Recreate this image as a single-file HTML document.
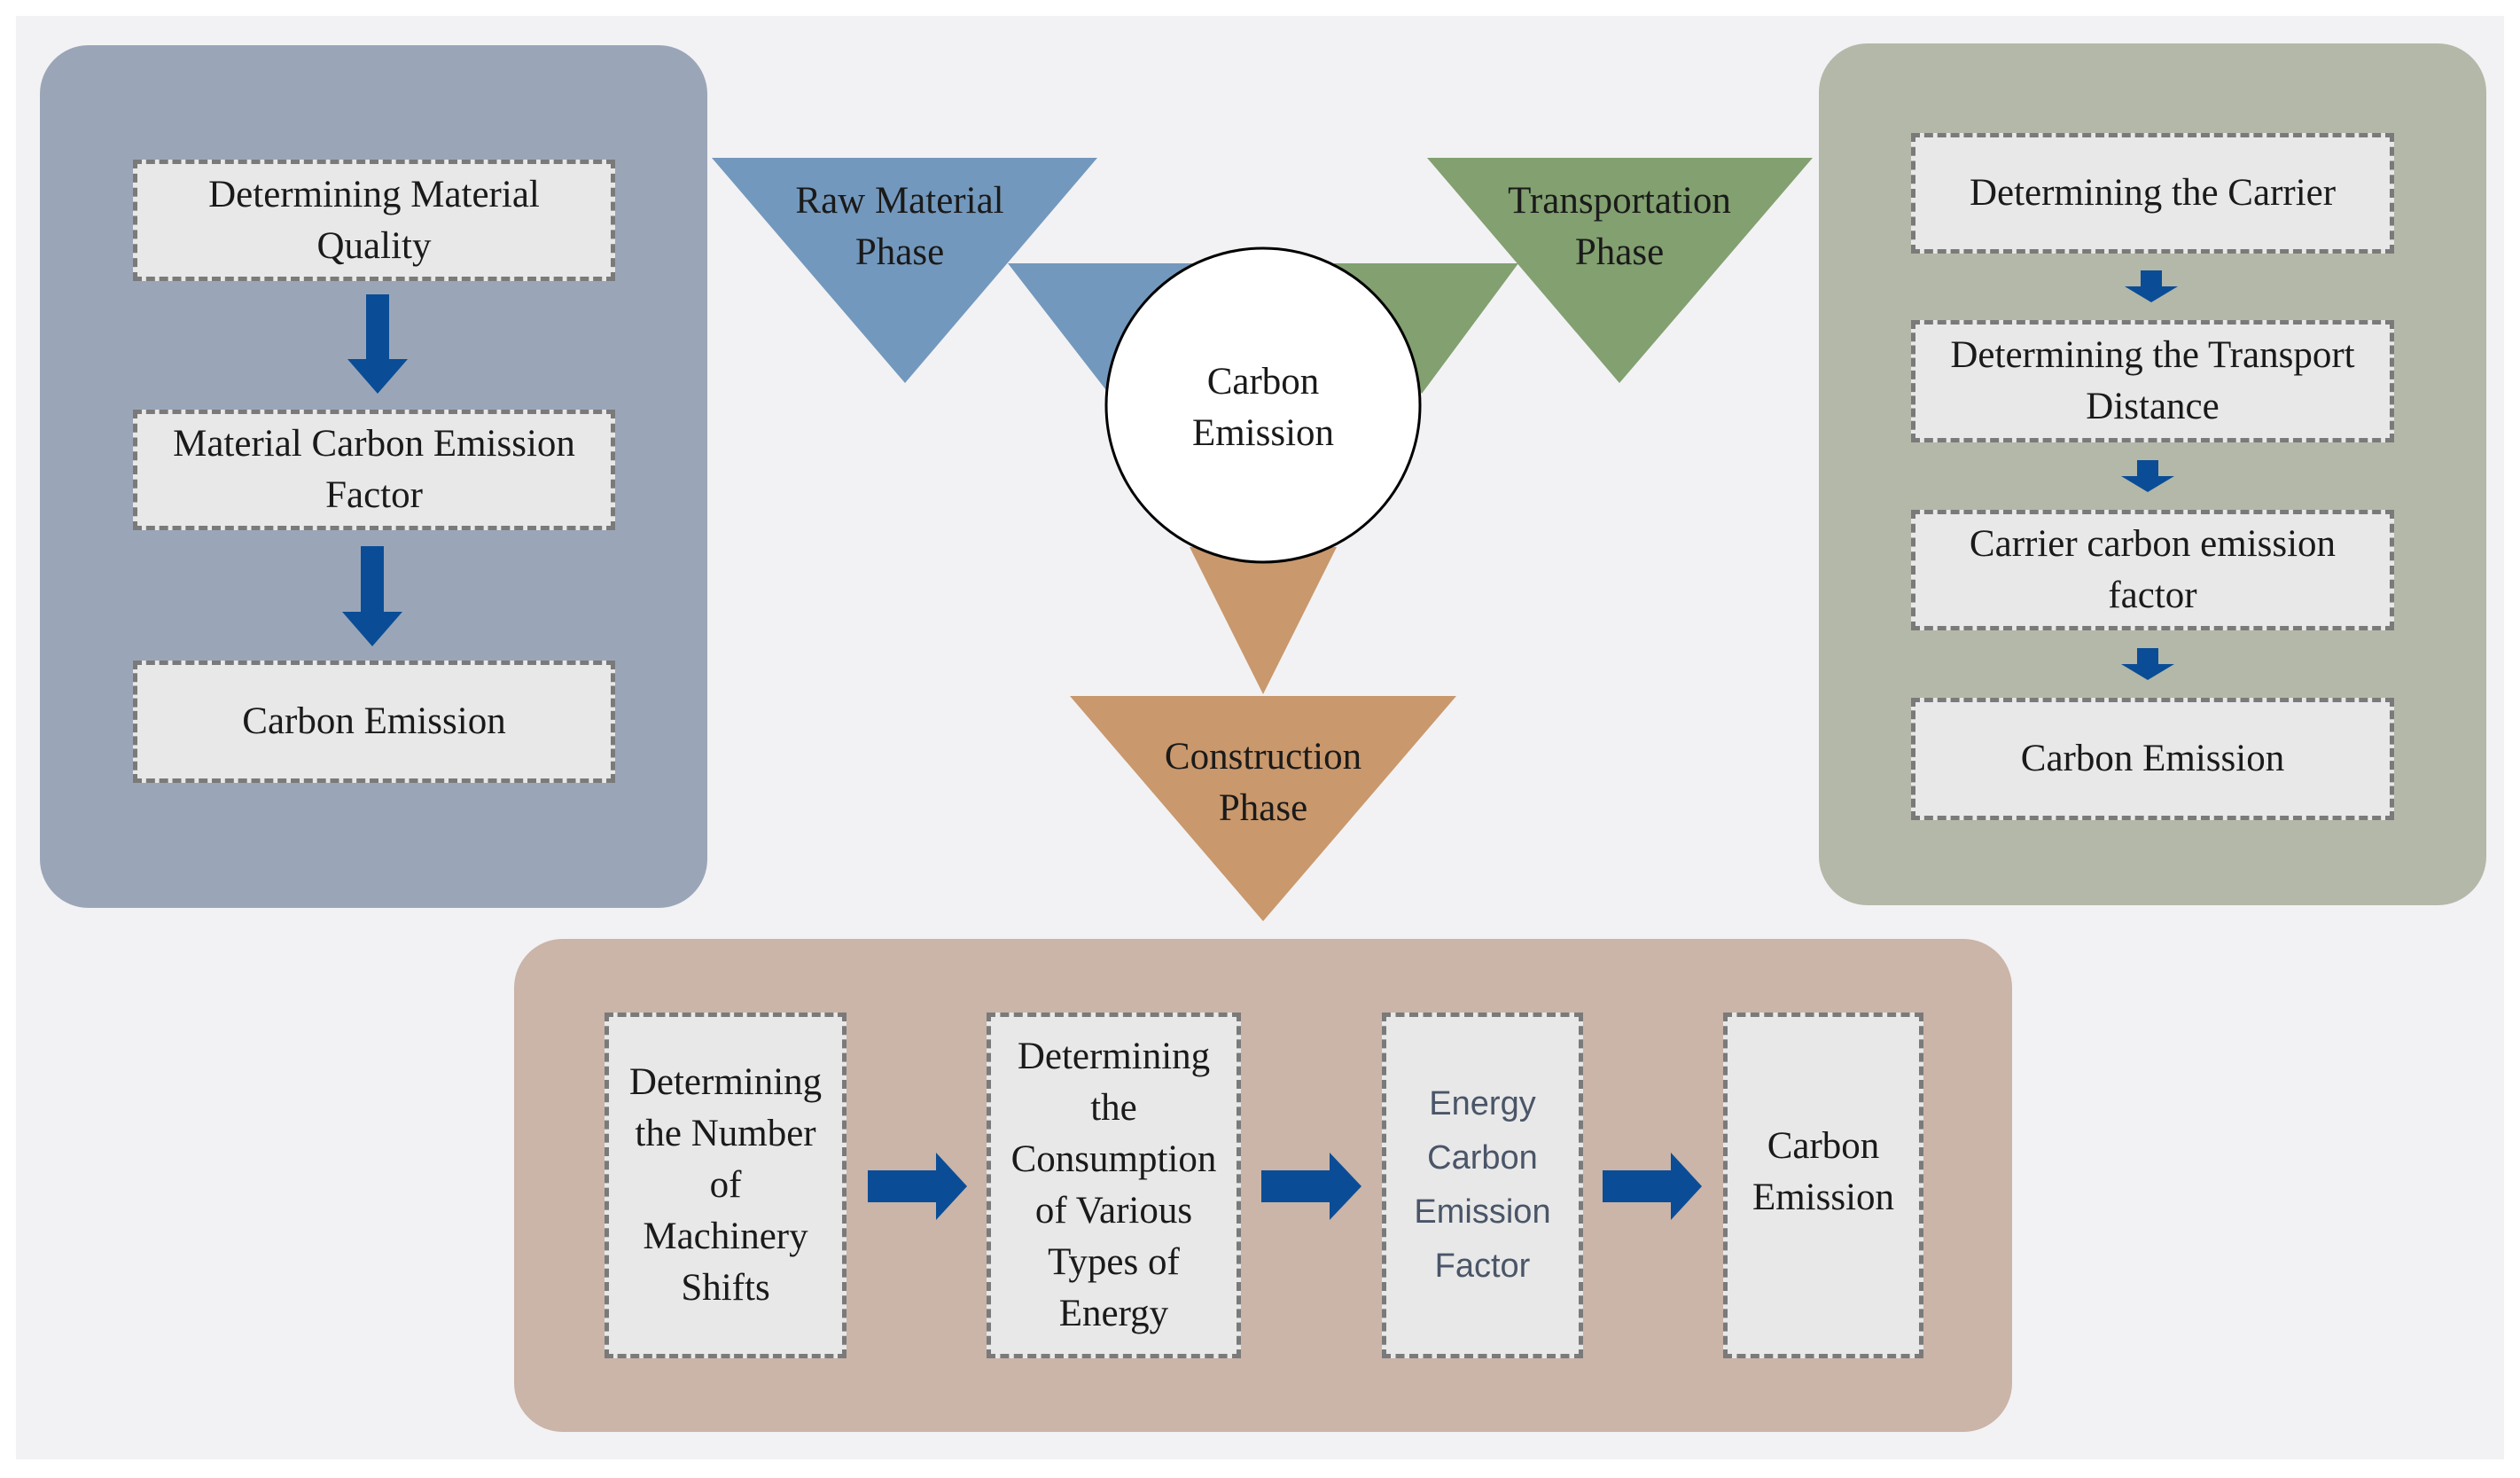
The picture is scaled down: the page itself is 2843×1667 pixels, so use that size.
<!DOCTYPE html>
<html><head><style>
body{margin:0;width:2843px;height:1667px;background:#fff;position:relative;overflow:hidden;font-family:"Liberation Serif",serif;color:#1a1a1a}
div{position:absolute;box-sizing:border-box}
.bg{left:18px;top:18px;width:2807px;height:1628px;background:#f2f2f4}
.panel{border-radius:55px}
.box{background:#e8e8e8;border:5px dashed #7a7a7a;display:flex;align-items:center;justify-content:center;text-align:center;font-size:43px;line-height:58px}
.lbl{text-align:center;font-size:43px;line-height:58px;transform:translate(-50%,-50%);white-space:nowrap}
svg{position:absolute;left:0;top:0}
</style></head><body>
<div class="bg"></div>
<div class="panel" style="left:45px;top:51px;width:753px;height:973px;background:#9aa6b8"></div>
<div class="panel" style="left:2052px;top:49px;width:753px;height:972px;background:#b4b8a8"></div>
<div class="panel" style="left:580px;top:1059px;width:1690px;height:556px;background:#cbb4a8"></div>

<svg width="2843" height="1667">
<polygon points="803,178 1238,178 1021,432" fill="#7398bd"/>
<polygon points="1137,297 1351,297 1251,444" fill="#7398bd"/>
<polygon points="1610,178 2045,178 1827,432" fill="#82a070"/>
<polygon points="1505,297 1713,297 1604,444" fill="#82a070"/>
<polygon points="1342,617 1508,617 1425,783" fill="#c9986c"/>
<polygon points="1207,785 1643,785 1425,1039" fill="#c9986c"/>
<circle cx="1425" cy="457" r="177" fill="#fff" stroke="#000" stroke-width="3"/>
<g fill="#0a4d96">
<polygon points="413,332 439,332 439,405 460,405 426,444 392,405 413,405"/>
<polygon points="407,616 433,616 433,690 454,690 420,729 386,690 407,690"/>
<polygon points="2415,305 2439,305 2439,323 2457,323 2427,341 2397,323 2415,323"/>
<polygon points="2411,519 2435,519 2435,537 2453,537 2423,555 2393,537 2411,537"/>
<polygon points="2411,731 2435,731 2435,749 2453,749 2423,767 2393,749 2411,749"/>
<polygon points="979,1320 1056,1320 1056,1300 1091,1338 1056,1376 1056,1356 979,1356"/>
<polygon points="1423,1320 1500,1320 1500,1300 1536,1338 1500,1376 1500,1356 1423,1356"/>
<polygon points="1808,1320 1885,1320 1885,1300 1920,1338 1885,1376 1885,1356 1808,1356"/>
</g>
</svg>

<div class="lbl" style="left:1015px;top:256px">Raw Material<br>Phase</div>
<div class="lbl" style="left:1827px;top:256px">Transportation<br>Phase</div>
<div class="lbl" style="left:1425px;top:883px">Construction<br>Phase</div>
<div class="lbl" style="left:1425px;top:460px">Carbon<br>Emission</div>

<div class="box" style="left:150px;top:180px;width:544px;height:137px">Determining Material<br>Quality</div>
<div class="box" style="left:150px;top:462px;width:544px;height:136px;white-space:nowrap">Material Carbon Emission<br>Factor</div>
<div class="box" style="left:150px;top:745px;width:544px;height:138px">Carbon Emission</div>

<div class="box" style="left:2156px;top:150px;width:545px;height:136px">Determining the Carrier</div>
<div class="box" style="left:2156px;top:361px;width:545px;height:138px;white-space:nowrap">Determining the Transport<br>Distance</div>
<div class="box" style="left:2156px;top:575px;width:545px;height:136px">Carrier carbon emission<br>factor</div>
<div class="box" style="left:2156px;top:787px;width:545px;height:138px">Carbon Emission</div>

<div class="box" style="left:682px;top:1142px;width:273px;height:390px;white-space:nowrap">Determining<br>the Number<br>of<br>Machinery<br>Shifts</div>
<div class="box" style="left:1113px;top:1142px;width:287px;height:390px;white-space:nowrap">Determining<br>the<br>Consumption<br>of Various<br>Types of<br>Energy</div>
<div class="box" style="left:1559px;top:1142px;width:227px;height:390px;font-family:'Liberation Sans',sans-serif;font-size:38px;line-height:61px;color:#4a5568">Energy<br>Carbon<br>Emission<br>Factor</div>
<div class="box" style="left:1944px;top:1142px;width:226px;height:390px;padding-bottom:30px">Carbon<br>Emission</div>
</body></html>
